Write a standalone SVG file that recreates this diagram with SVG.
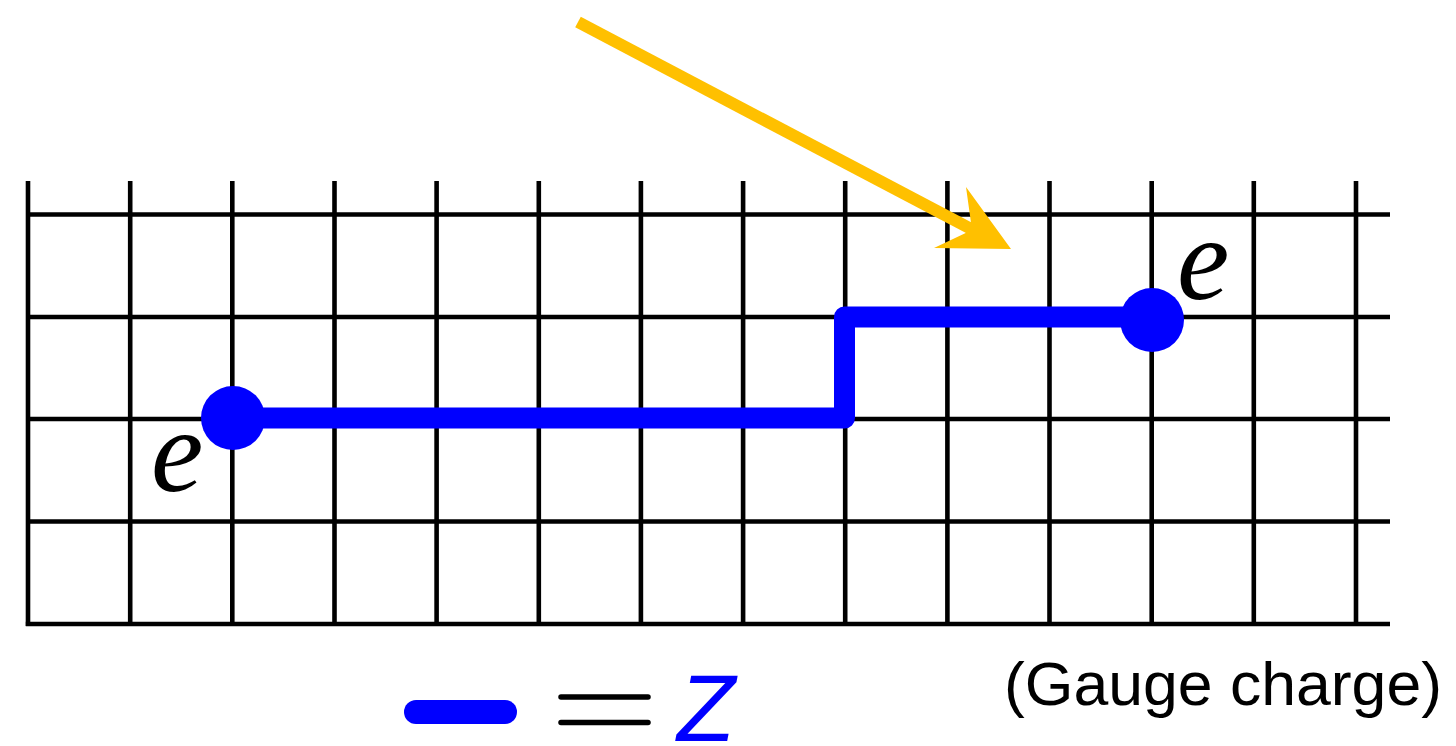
<svg xmlns="http://www.w3.org/2000/svg" width="1456" height="746" viewBox="0 0 1456 746">
  <style>
    .grid line { stroke: #000; stroke-width: 4.6; }
    .path { fill: none; stroke: #0000ff; stroke-width: 21; stroke-linejoin: round; }
    .dot { fill: #0000ff; }
    .math { font-family: "Liberation Serif", "DejaVu Serif", serif; font-style: italic; fill: #000; }
    .label { font-family: "Liberation Sans", Arial, sans-serif; fill: #000; }
  </style>
  <rect width="1456" height="746" fill="#fff"/>
  <g id="grid" class="grid">
    <line x1="28" y1="181" x2="28" y2="626"/>
    <line x1="130.2" y1="181" x2="130.2" y2="624"/>
    <line x1="232.3" y1="181" x2="232.3" y2="624"/>
    <line x1="334.5" y1="181" x2="334.5" y2="624"/>
    <line x1="436.6" y1="181" x2="436.6" y2="624"/>
    <line x1="538.8" y1="181" x2="538.8" y2="624"/>
    <line x1="640.9" y1="181" x2="640.9" y2="624"/>
    <line x1="743.1" y1="181" x2="743.1" y2="624"/>
    <line x1="845.2" y1="181" x2="845.2" y2="624"/>
    <line x1="947.4" y1="181" x2="947.4" y2="624"/>
    <line x1="1049.5" y1="181" x2="1049.5" y2="624"/>
    <line x1="1151.7" y1="181" x2="1151.7" y2="624"/>
    <line x1="1253.8" y1="181" x2="1253.8" y2="624"/>
    <line x1="1356" y1="181" x2="1356" y2="624"/>
    <line x1="28" y1="214.5" x2="1390" y2="214.5"/>
    <line x1="28" y1="317" x2="1390" y2="317"/>
    <line x1="28" y1="419" x2="1390" y2="419"/>
    <line x1="28" y1="521.5" x2="1390" y2="521.5"/>
    <line x1="25.8" y1="624" x2="1390" y2="624"/>
  </g>
  <g id="connectors">
    <path id="z-string" class="path" d="M233 418 H844.5 V317 H1152"/>
    <g id="arrow">
      <line x1="578" y1="22" x2="975" y2="231" stroke="#ffc000" stroke-width="12"/>
      <polygon points="966,187 1011,249 934,248 972,230" fill="#ffc000"/>
    </g>
  </g>
  <g id="charge-left">
    <circle class="dot" cx="233" cy="418" r="32"/>
    <text class="math" x="151" y="491" font-size="118">e</text>
  </g>
  <g id="charge-right">
    <circle class="dot" cx="1152" cy="320" r="32"/>
    <text class="math" x="1177" y="299" font-size="118">e</text>
  </g>
  <g id="legend">
    <line x1="416" y1="712" x2="505" y2="712" stroke="#0000ff" stroke-width="24" stroke-linecap="round"/>
    <line x1="561" y1="697" x2="648" y2="697" stroke="#000" stroke-width="5.5" stroke-linecap="round"/>
    <line x1="561" y1="722.5" x2="648" y2="722.5" stroke="#000" stroke-width="5.5" stroke-linecap="round"/>
    <text x="677" y="741" font-family="Liberation Sans, Arial, sans-serif" font-style="italic" font-size="95" fill="#0000ff">Z</text>
  </g>
  <g id="gauge-label">
    <text class="label" x="1004" y="705" font-size="62" textLength="438" lengthAdjust="spacingAndGlyphs">(Gauge charge)</text>
  </g>
</svg>
